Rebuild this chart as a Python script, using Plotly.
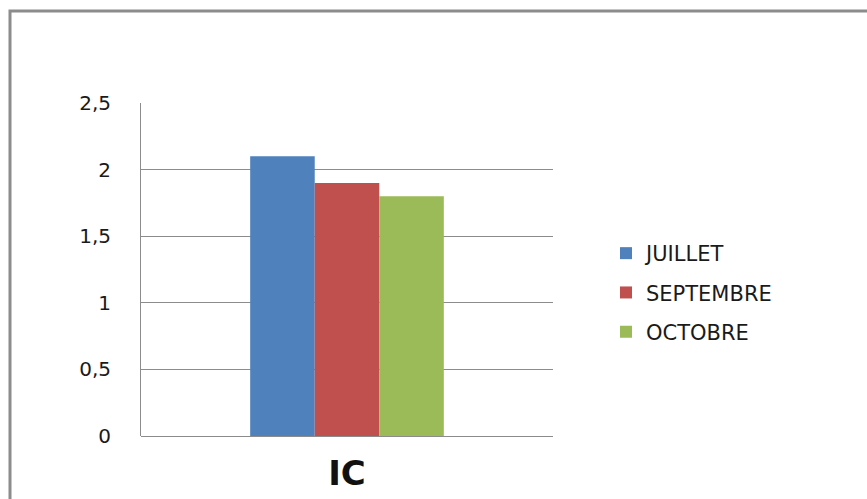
import plotly.graph_objects as go

# Indicator value per month
categories = ["IC"]
months = ["JUILLET", "SEPTEMBRE", "OCTOBRE"]
values = [2.1, 1.9, 1.8]
colors = ["#4F81BD", "#C0504D", "#9BBB59"]
y_ticks = [0, 0.5, 1, 1.5, 2, 2.5]

fig = go.Figure()
for i, (m, v, c) in enumerate(zip(months, values, colors)):
    fig.add_trace(go.Bar(
        x=categories, y=[v], name=m, marker_color=c,
        marker_line_width=0, legendgroup=m,
    ))

W, H = 867, 499
L, R, T, B = 141, 314, 103, 63
pw, ph = W - L - R, H - T - B

fig.update_layout(
    width=W, height=H,
    margin=dict(l=L, r=R, t=T, b=B, autoexpand=False),
    paper_bgcolor="white", plot_bgcolor="white",
    barmode="group", bargap=0.53, bargroupgap=0,
    separators=", ",
    font=dict(family="DejaVu Sans", size=20, color="#1a1a1a"),
    showlegend=True,
    legend=dict(
        x=(606 - L) / pw, y=(436 - 233) / ph, xanchor="left", yanchor="top",
        font=dict(size=21, family="DejaVu Sans", color="#1a1a1a"),
        traceorder="grouped", tracegroupgap=9, itemwidth=30,
        bgcolor="rgba(0,0,0,0)",
    ),
    xaxis=dict(
        showgrid=False, zeroline=False, showline=False, automargin=False,
        tickfont=dict(size=34, family="DejaVu Sans", color="#111"),
        ticklabelstandoff=14,
    ),
    yaxis=dict(
        range=[0, 2.5], tickvals=y_ticks, automargin=False,
        showgrid=True, gridcolor="#8c8c8c", gridwidth=1,
        zeroline=True, zerolinecolor="#8c8c8c", zerolinewidth=1,
        showline=True, linecolor="#8c8c8c", linewidth=1,
        ticks="", ticklabelstandoff=25,
        tickfont=dict(size=20, family="DejaVu Sans", color="#1a1a1a"),
    ),
    shapes=[dict(
        type="rect", xref="paper", yref="paper",
        x0=(10 - L) / pw, x1=(W + 20 - L) / pw,
        y0=(436 - (H + 20)) / ph, y1=(436 - 11) / ph,
        line=dict(color="#8c8c8c", width=3), fillcolor="rgba(0,0,0,0)",
        layer="below",
    )],
)
fig.update_xaxes(tickfont_weight="bold")

fig.write_html("out.html")
